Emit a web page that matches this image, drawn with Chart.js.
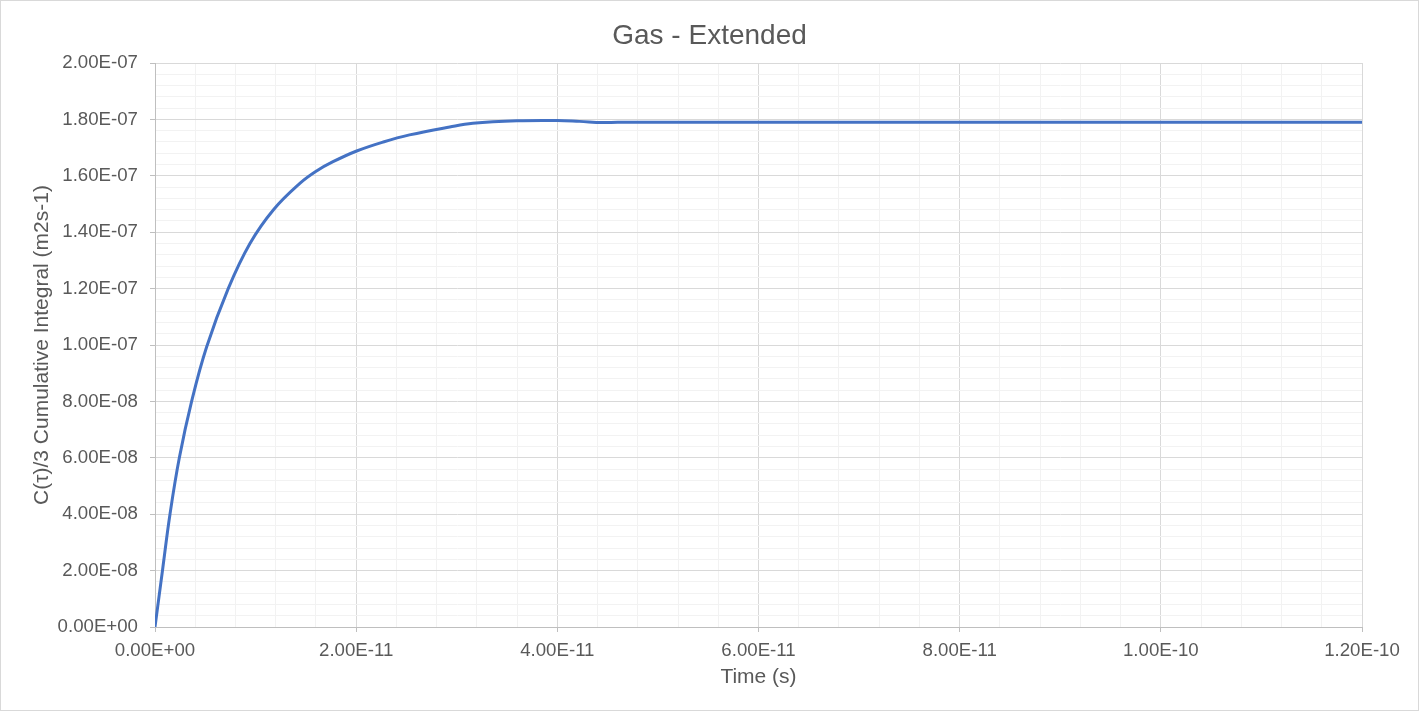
<!DOCTYPE html>
<html>
<head>
<meta charset="utf-8">
<title>Gas - Extended</title>
<script src="https://cdn.jsdelivr.net/npm/chart.js@4/dist/chart.umd.min.js"></script>
<style>
    body { margin: 0; background: #fff; }
    canvas { display: block; background: #fff; }
</style>
</head>
<body>
<canvas id="gasChart" width="1419" height="711"></canvas>
<script>
// 読み取った値 (time in s, integral in m2s-1)
const timeValues = [
    0, 0.76e-12, 1.49e-12, 2.42e-12, 3.64e-12, 5.13e-12, 7.28e-12, 9.44e-12,
    11.76e-12, 14.4e-12, 16.1e-12, 17.7e-12, 20.05e-12, 22.7e-12, 25.3e-12,
    29.3e-12, 31.6e-12, 36.0e-12, 40.0e-12, 42.2e-12, 44.5e-12, 46.0e-12,
    50e-12, 60e-12, 70e-12, 80e-12, 90e-12, 100e-12, 110e-12, 120e-12
];
const integralValues = [
    0, 2.05e-8, 4.0e-8, 6.0e-8, 8.0e-8, 0.993e-7, 1.2e-7, 1.36e-7,
    1.479e-7, 1.573e-7, 1.618e-7, 1.65e-7, 1.688e-7, 1.72e-7, 1.745e-7,
    1.773e-7, 1.786e-7, 1.795e-7, 1.796e-7, 1.793e-7, 1.789e-7, 1.790e-7,
    1.790e-7, 1.790e-7, 1.790e-7, 1.790e-7, 1.790e-7, 1.790e-7, 1.790e-7, 1.790e-7
];

const xMax = 1.2e-10, xMajor = 2e-11, xMinor = 4e-12;
const yMax = 2e-7, yMajor = 2e-8, yMinor = 4e-9;

const FONT = "'Liberation Sans', Arial, sans-serif";
const TEXT = '#595959';

// Excel風の指数表記 2.00E-11
function sci(v) {
    const [m, e] = v.toExponential(2).split('e');
    const n = parseInt(e, 10);
    return m + 'E' + (n < 0 ? '-' : '+') + String(Math.abs(n)).padStart(2, '0');
}

function isMajor(v, step) {
    const r = v / step;
    return Math.abs(r - Math.round(r)) < 1e-6;
}

function axisGrid(step) {
    return {
        color: ctx => isMajor(ctx.tick.value, step) ? '#d9d9d9' : '#f2f2f2',
        tickColor: ctx => isMajor(ctx.tick.value, step) ? '#bfbfbf' : 'rgba(0,0,0,0)',
        lineWidth: 1,
        tickLength: 5
    };
}

const frame = {
    id: 'frame',
    afterDraw(chart) {
        const c = chart.ctx;
        c.save();
        c.strokeStyle = '#d9d9d9';
        c.lineWidth = 1;
        c.strokeRect(0.5, 0.5, chart.width - 1, chart.height - 1);
        c.restore();
    }
};

new Chart(document.getElementById('gasChart'), {
    type: 'line',
    data: {
        datasets: [{
            label: 'Gas - Extended',
            data: timeValues.map((t, i) => ({ x: t, y: integralValues[i] })),
            borderColor: '#4472C4',
            borderWidth: 3,
            pointRadius: 0,
            tension: 0.4,
            fill: false
        }]
    },
    options: {
        responsive: false,
        animation: false,
        layout: { padding: 0 },
        plugins: {
            legend: { display: false },
            tooltip: { enabled: false },
            title: {
                display: true,
                text: 'Gas - Extended',
                color: TEXT,
                font: { family: FONT, size: 28, weight: 'normal' },
                padding: { top: 19, bottom: 10.4 }
            }
        },
        scales: {
            x: {
                type: 'linear',
                min: 0,
                max: xMax,
                afterFit: s => { s.height = 84; },
                border: { color: '#bfbfbf', width: 1 },
                grid: axisGrid(xMajor),
                ticks: {
                    stepSize: xMinor,
                    autoSkip: false,
                    maxRotation: 0,
                    padding: 8,
                    color: TEXT,
                    font: { family: FONT, size: 18.67 },
                    callback: v => isMajor(v, xMajor) ? sci(v) : ''
                },
                title: {
                    display: true,
                    text: 'Time (s)',
                    color: TEXT,
                    font: { family: FONT, size: 21 },
                    padding: { top: 0, bottom: 21.6 }
                }
            },
            y: {
                type: 'linear',
                min: 0,
                max: yMax,
                afterFit: s => { s.width = 155; },
                border: { color: '#bfbfbf', width: 1 },
                grid: axisGrid(yMajor),
                ticks: {
                    stepSize: yMinor,
                    autoSkip: false,
                    padding: 12,
                    color: TEXT,
                    font: { family: FONT, size: 18.67 },
                    callback: v => isMajor(v, yMajor) ? sci(v) : ''
                },
                title: {
                    display: true,
                    text: 'C(τ)/3 Cumulative Integral (m2s-1)',
                    color: TEXT,
                    font: { family: FONT, size: 21 },
                    padding: { top: 30, bottom: 0 }
                }
            },
            // 右側の余白用 (表示なし)
            gap: {
                type: 'linear',
                position: 'right',
                min: 0,
                max: 1,
                afterFit: s => { s.width = 57; },
                grid: { display: false, drawTicks: false },
                border: { display: false },
                ticks: { display: false }
            }
        }
    },
    plugins: [frame]
});
</script>
</body>
</html>
